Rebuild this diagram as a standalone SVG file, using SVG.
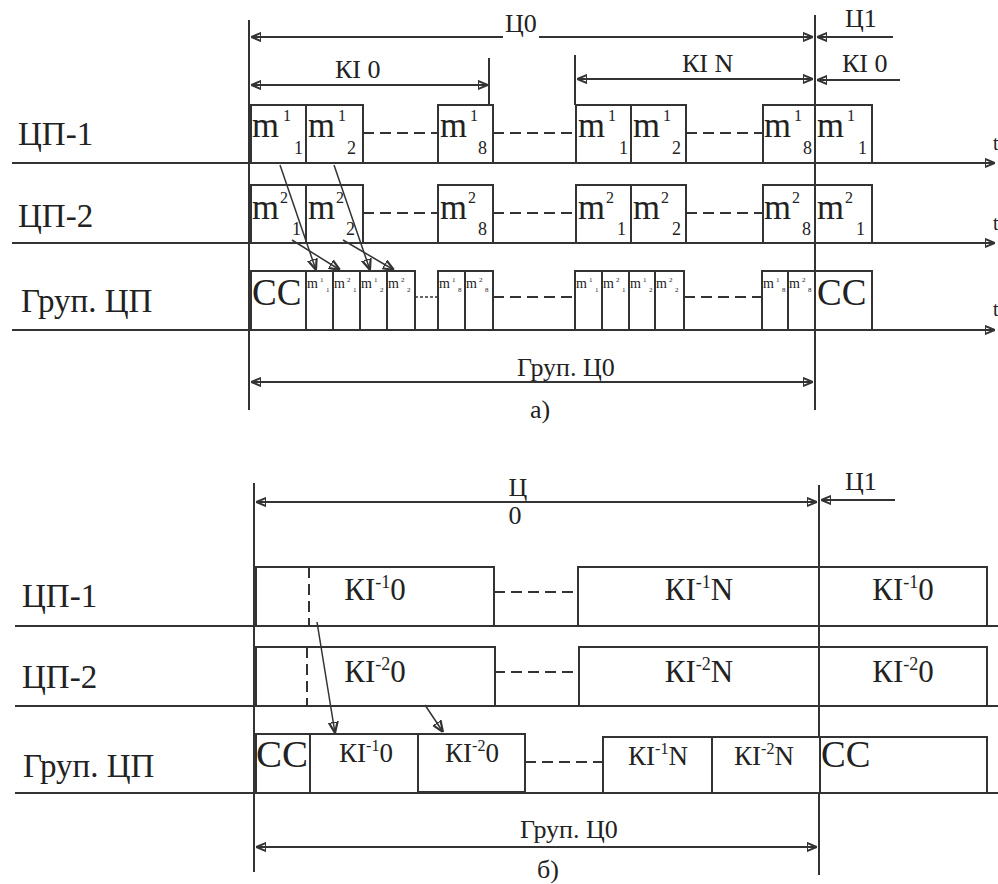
<svg xmlns="http://www.w3.org/2000/svg" width="998" height="884" viewBox="0 0 998 884" font-family="Liberation Serif, Tinos, Times New Roman, Times, Noto Serif, DejaVu Serif, FreeSerif, serif">
<defs>
<marker id="ah" viewBox="0 0 10 10" refX="10" refY="5" markerWidth="10" markerHeight="10" markerUnits="userSpaceOnUse" orient="auto-start-reverse">
<path d="M0,1 L10,5 L0,9 Z" fill="#222"/>
</marker>
<marker id="ahs" viewBox="0 0 10 10" refX="10" refY="5" markerWidth="11" markerHeight="11" markerUnits="userSpaceOnUse" orient="auto">
<path d="M0,1 L10,5 L0,9 Z" fill="#222"/>
</marker>
<style>
line,rect,path{stroke:#333;stroke-width:2;fill:none}
rect{fill:#fff}
.dash{stroke-dasharray:11 6}
.dot{stroke-dasharray:3 2;stroke-width:1.5}
.thin{stroke-width:1.5}
text{fill:#222}
.lab{font-size:33px}
.dim{font-size:26px}
.m{font-size:36px}
.sup{font-size:16px}
.sub{font-size:18px}
.sm{font-size:14px}
.smi{font-size:7px}
.cc{font-size:37px}
.ki{font-size:31px}
.kg{font-size:27px}
</style>
</defs>

<!-- ===== Part a ===== -->
<g id="labels-a">
<text class="lab" x="18" y="145">ЦП-1</text>
<text class="lab" x="18" y="227">ЦП-2</text>
<text class="lab" x="21" y="312">Груп. ЦП</text>
<text class="dim" x="517" y="376">Груп. Ц0</text>
<text class="dim" x="530" y="418">а)</text>
</g>

<g id="axes-a">
<line x1="12" y1="163" x2="995" y2="163" marker-end="url(#ah)"/>
<line x1="12" y1="243" x2="995" y2="243" marker-end="url(#ah)"/>
<line x1="12" y1="330" x2="995" y2="330" marker-end="url(#ah)"/>
<text x="993" y="150" font-size="20">t</text>
<text x="993" y="230" font-size="20">t</text>
<text x="993" y="316" font-size="20">t</text>
<line x1="249" y1="20" x2="249" y2="410"/>
<line x1="815" y1="15" x2="815" y2="410"/>
<line x1="489" y1="58" x2="489" y2="105"/>
<line x1="575" y1="55" x2="575" y2="105"/>
</g>

<g id="dims-a">
<line x1="251" y1="37" x2="503" y2="37" marker-start="url(#ah)"/>
<line x1="539" y1="37" x2="813" y2="37" marker-end="url(#ah)"/>
<text class="dim" x="505" y="32">Ц0</text>
<line x1="893" y1="37" x2="817" y2="37" marker-end="url(#ah)"/>
<text class="dim" x="845" y="27">Ц1</text>
<line x1="251" y1="85" x2="488" y2="85" marker-start="url(#ah)" marker-end="url(#ah)"/>
<text class="dim" x="335" y="78">КІ 0</text>
<line x1="577" y1="79" x2="813" y2="79" marker-start="url(#ah)" marker-end="url(#ah)"/>
<text class="dim" x="682" y="72">КІ N</text>
<line x1="900" y1="80" x2="817" y2="80" marker-end="url(#ah)"/>
<text class="dim" x="842" y="72">КІ 0</text>
<line x1="251" y1="382" x2="813" y2="382" marker-start="url(#ah)" marker-end="url(#ah)"/>
</g>

<g id="cp1-a">
<line class="dash" x1="363" y1="133" x2="438" y2="133"/>
<line class="dash" x1="493" y1="133" x2="576" y2="133"/>
<line class="dash" x1="686" y1="133" x2="763" y2="133"/>
<rect x="251" y="105" width="55" height="58"/>
<rect x="306" y="105" width="57" height="58"/>
<rect x="438" y="105" width="55" height="58"/>
<rect x="576" y="105" width="55" height="58"/>
<rect x="631" y="105" width="55" height="58"/>
<rect x="763" y="105" width="52" height="58"/>
<rect x="815" y="105" width="57" height="58"/>
<text class="m" x="252" y="137" textLength="27" lengthAdjust="spacingAndGlyphs">m</text><text class="sup" x="283" y="121">1</text><text class="sub" x="294" y="154">1</text>
<text class="m" x="308" y="137" textLength="27" lengthAdjust="spacingAndGlyphs">m</text><text class="sup" x="338" y="121">1</text><text class="sub" x="347" y="154">2</text>
<text class="m" x="440" y="137" textLength="27" lengthAdjust="spacingAndGlyphs">m</text><text class="sup" x="470" y="121">1</text><text class="sub" x="478" y="154">8</text>
<text class="m" x="578" y="137" textLength="27" lengthAdjust="spacingAndGlyphs">m</text><text class="sup" x="608" y="121">1</text><text class="sub" x="619" y="154">1</text>
<text class="m" x="633" y="137" textLength="27" lengthAdjust="spacingAndGlyphs">m</text><text class="sup" x="663" y="121">1</text><text class="sub" x="672" y="154">2</text>
<text class="m" x="764" y="137" textLength="27" lengthAdjust="spacingAndGlyphs">m</text><text class="sup" x="794" y="121">1</text><text class="sub" x="803" y="154">8</text>
<text class="m" x="817" y="137" textLength="27" lengthAdjust="spacingAndGlyphs">m</text><text class="sup" x="847" y="121">1</text><text class="sub" x="858" y="154">1</text>
</g>

<g id="cp2-a">
<line class="dash" x1="363" y1="213" x2="438" y2="213"/>
<line class="dash" x1="493" y1="213" x2="576" y2="213"/>
<line class="dash" x1="686" y1="213" x2="763" y2="213"/>
<rect x="251" y="185" width="55" height="58"/>
<rect x="306" y="185" width="57" height="58"/>
<rect x="438" y="185" width="55" height="58"/>
<rect x="576" y="185" width="55" height="58"/>
<rect x="631" y="185" width="55" height="58"/>
<rect x="763" y="185" width="52" height="58"/>
<rect x="815" y="185" width="57" height="58"/>
<text class="m" x="252" y="219" textLength="27" lengthAdjust="spacingAndGlyphs">m</text><text class="sup" x="280" y="203">2</text><text class="sub" x="292" y="235">1</text>
<text class="m" x="308" y="219" textLength="27" lengthAdjust="spacingAndGlyphs">m</text><text class="sup" x="336" y="203">2</text><text class="sub" x="346" y="235">2</text>
<text class="m" x="440" y="219" textLength="27" lengthAdjust="spacingAndGlyphs">m</text><text class="sup" x="468" y="203">2</text><text class="sub" x="478" y="235">8</text>
<text class="m" x="578" y="219" textLength="27" lengthAdjust="spacingAndGlyphs">m</text><text class="sup" x="606" y="203">2</text><text class="sub" x="617" y="235">1</text>
<text class="m" x="633" y="219" textLength="27" lengthAdjust="spacingAndGlyphs">m</text><text class="sup" x="661" y="203">2</text><text class="sub" x="672" y="235">2</text>
<text class="m" x="764" y="219" textLength="27" lengthAdjust="spacingAndGlyphs">m</text><text class="sup" x="792" y="203">2</text><text class="sub" x="802" y="235">8</text>
<text class="m" x="817" y="219" textLength="27" lengthAdjust="spacingAndGlyphs">m</text><text class="sup" x="845" y="203">2</text><text class="sub" x="856" y="235">1</text>
</g>

<g id="grp-a">
<line class="dot" x1="415" y1="297" x2="438" y2="297"/>
<line class="dash" x1="493" y1="297" x2="575" y2="297"/>
<line class="dash" x1="684" y1="297" x2="762" y2="297"/>
<rect x="251" y="271" width="55" height="59"/>
<rect x="306" y="271" width="27" height="59"/>
<rect x="333" y="271" width="27" height="59"/>
<rect x="360" y="271" width="27" height="59"/>
<rect x="387" y="271" width="28" height="59"/>
<rect x="438" y="271" width="27" height="59"/>
<rect x="465" y="271" width="28" height="59"/>
<rect x="575" y="271" width="27" height="59"/>
<rect x="602" y="271" width="27" height="59"/>
<rect x="629" y="271" width="26" height="59"/>
<rect x="655" y="271" width="29" height="59"/>
<rect x="762" y="271" width="26" height="59"/>
<rect x="788" y="271" width="27" height="59"/>
<rect x="815" y="271" width="57" height="59"/>
<text class="cc" x="252" y="305">CC</text>
<text class="cc" x="817" y="305">CC</text>
<g class="smlab">
<text class="sm" x="307" y="288">m</text><text class="smi" x="320" y="282">1</text><text class="smi" x="326" y="292">1</text>
<text class="sm" x="334" y="288">m</text><text class="smi" x="347" y="282">2</text><text class="smi" x="353" y="292">1</text>
<text class="sm" x="361" y="288">m</text><text class="smi" x="374" y="282">1</text><text class="smi" x="380" y="292">2</text>
<text class="sm" x="388" y="288">m</text><text class="smi" x="401" y="282">2</text><text class="smi" x="407" y="292">2</text>
<text class="sm" x="439" y="288">m</text><text class="smi" x="452" y="282">1</text><text class="smi" x="458" y="292">8</text>
<text class="sm" x="466" y="288">m</text><text class="smi" x="479" y="282">2</text><text class="smi" x="485" y="292">8</text>
<text class="sm" x="576" y="288">m</text><text class="smi" x="589" y="282">1</text><text class="smi" x="595" y="292">1</text>
<text class="sm" x="603" y="288">m</text><text class="smi" x="616" y="282">2</text><text class="smi" x="622" y="292">1</text>
<text class="sm" x="630" y="288">m</text><text class="smi" x="643" y="282">1</text><text class="smi" x="649" y="292">2</text>
<text class="sm" x="656" y="288">m</text><text class="smi" x="669" y="282">2</text><text class="smi" x="675" y="292">2</text>
<text class="sm" x="763" y="288">m</text><text class="smi" x="776" y="282">1</text><text class="smi" x="782" y="292">8</text>
<text class="sm" x="789" y="288">m</text><text class="smi" x="802" y="282">2</text><text class="smi" x="808" y="292">8</text>
</g>
</g>

<g id="connectors-a">
<line class="thin" x1="280" y1="165" x2="316" y2="270" marker-end="url(#ahs)"/>
<line class="thin" x1="292" y1="240" x2="340" y2="270" marker-end="url(#ahs)"/>
<line class="thin" x1="334" y1="165" x2="370" y2="270" marker-end="url(#ahs)"/>
<line class="thin" x1="343" y1="240" x2="394" y2="270" marker-end="url(#ahs)"/>
</g>

<!-- ===== Part b ===== -->
<g id="labels-b">
<text class="lab" x="22" y="607">ЦП-1</text>
<text class="lab" x="22" y="688">ЦП-2</text>
<text class="lab" x="23" y="777">Груп. ЦП</text>
<text class="dim" x="520" y="838">Груп. Ц0</text>
<text class="dim" x="537" y="878">б)</text>
</g>

<g id="axes-b">
<line x1="15" y1="626" x2="998" y2="626"/>
<line x1="15" y1="706" x2="998" y2="706"/>
<line x1="15" y1="793" x2="998" y2="793"/>
<line x1="254" y1="483" x2="254" y2="872"/>
<line x1="819" y1="485" x2="819" y2="875"/>
</g>

<g id="dims-b">
<line x1="256" y1="502" x2="817" y2="502" marker-start="url(#ah)" marker-end="url(#ah)"/>
<text class="dim" x="518" y="496" text-anchor="middle">Ц</text>
<text class="dim" x="515" y="524" text-anchor="middle">0</text>
<line x1="895" y1="500" x2="821" y2="500" marker-end="url(#ah)"/>
<text class="dim" x="845" y="490">Ц1</text>
<line x1="256" y1="847" x2="817" y2="847" marker-start="url(#ah)" marker-end="url(#ah)"/>
</g>

<g id="cp1-b">
<line class="dash" x1="494" y1="592" x2="578" y2="592"/>
<rect x="256" y="567" width="238" height="59"/>
<rect x="578" y="567" width="241" height="59"/>
<rect x="819" y="567" width="168" height="59"/>
<line class="dash" x1="309" y1="567" x2="309" y2="626"/>
<text class="ki" x="375" y="600" text-anchor="middle">КІ<tspan font-size="18" dy="-12">-1</tspan><tspan dy="12">0</tspan></text>
<text class="ki" x="699" y="600" text-anchor="middle">КІ<tspan font-size="18" dy="-12">-1</tspan><tspan dy="12">N</tspan></text>
<text class="ki" x="903" y="600" text-anchor="middle">КІ<tspan font-size="18" dy="-12">-1</tspan><tspan dy="12">0</tspan></text>
</g>

<g id="cp2-b">
<line class="dash" x1="494" y1="672" x2="580" y2="672"/>
<rect x="256" y="647" width="239" height="59"/>
<rect x="579" y="647" width="240" height="59"/>
<rect x="819" y="647" width="168" height="59"/>
<line class="dash" x1="307" y1="647" x2="307" y2="706"/>
<text class="ki" x="375" y="682" text-anchor="middle">КІ<tspan font-size="18" dy="-12">-2</tspan><tspan dy="12">0</tspan></text>
<text class="ki" x="699" y="682" text-anchor="middle">КІ<tspan font-size="18" dy="-12">-2</tspan><tspan dy="12">N</tspan></text>
<text class="ki" x="903" y="682" text-anchor="middle">КІ<tspan font-size="18" dy="-12">-2</tspan><tspan dy="12">0</tspan></text>
</g>

<g id="grp-b">
<line class="dash" x1="525" y1="762" x2="603" y2="762"/>
<rect x="256" y="734" width="54" height="59"/>
<rect x="310" y="734" width="108" height="59"/>
<rect x="418" y="734" width="107" height="58"/>
<rect x="603" y="737" width="109" height="56"/>
<rect x="712" y="737" width="108" height="56"/>
<rect x="820" y="737" width="167" height="56"/>
<text class="cc" x="256" y="767" textLength="52" lengthAdjust="spacingAndGlyphs">CC</text>
<text class="cc" x="821" y="767">CC</text>
<text class="kg" x="366" y="762" text-anchor="middle">КІ<tspan font-size="16" dy="-11">-1</tspan><tspan dy="11">0</tspan></text>
<text class="kg" x="472" y="762" text-anchor="middle">КІ<tspan font-size="16" dy="-11">-2</tspan><tspan dy="11">0</tspan></text>
<text class="kg" x="658" y="765" text-anchor="middle">КІ<tspan font-size="16" dy="-11">-1</tspan><tspan dy="11">N</tspan></text>
<text class="kg" x="764" y="765" text-anchor="middle">КІ<tspan font-size="16" dy="-11">-2</tspan><tspan dy="11">N</tspan></text>
</g>

<g id="connectors-b">
<line class="thin" x1="317" y1="622" x2="335" y2="733" marker-end="url(#ahs)"/>
<line class="thin" x1="425" y1="705" x2="443" y2="732" marker-end="url(#ahs)"/>
</g>
</svg>
